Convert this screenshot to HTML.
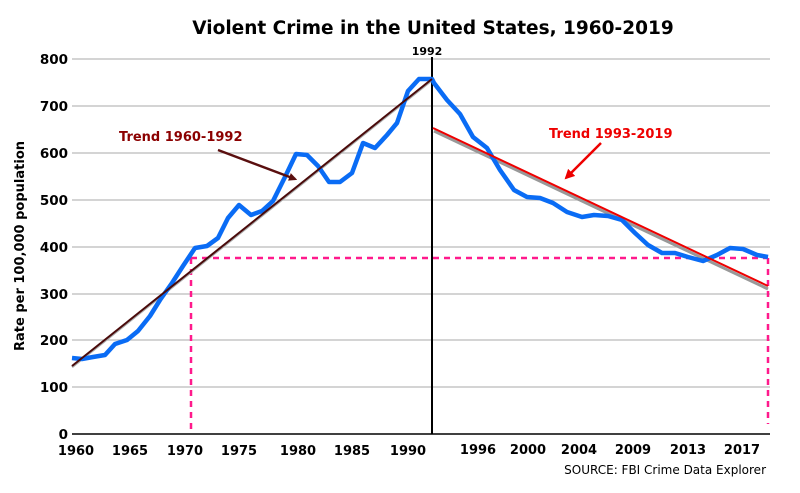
<!DOCTYPE html>
<html><head><style>body{margin:0;background:#fff}svg{display:block}text{font-family:"DejaVu Sans","Liberation Sans",sans-serif;font-weight:bold}</style></head><body>
<svg width="800" height="493" viewBox="0 0 800 493" xmlns="http://www.w3.org/2000/svg">
<defs>
<marker id="ab" markerWidth="8" markerHeight="8" refX="6" refY="4" orient="auto" markerUnits="userSpaceOnUse"><path d="M0,0 L12,4 L0,8 z" fill="#5a0f0f" transform="scale(0.7,1)"/></marker>
<marker id="ar" markerWidth="10" markerHeight="10" refX="8" refY="5" orient="auto" markerUnits="userSpaceOnUse"><path d="M0,0 L10,5 L0,10 z" fill="#e00"/></marker>
</defs>
<text x="433" y="34" text-anchor="middle" font-size="18.5">Violent Crime in the United States, 1960-2019</text>
<g stroke="#bbb" stroke-width="1.2">
<line x1="72" y1="59" x2="770" y2="59"/><line x1="72" y1="106" x2="770" y2="106"/><line x1="72" y1="153" x2="770" y2="153"/><line x1="72" y1="200" x2="770" y2="200"/><line x1="72" y1="247" x2="770" y2="247"/><line x1="72" y1="294" x2="770" y2="294"/><line x1="72" y1="340" x2="770" y2="340"/><line x1="72" y1="387" x2="770" y2="387"/>
</g>
<g font-size="13.5" text-anchor="end">
<text x="68" y="64">800</text><text x="68" y="111">700</text><text x="68" y="158">600</text><text x="68" y="205">500</text><text x="68" y="252">400</text><text x="68" y="299">300</text><text x="68" y="345">200</text><text x="68" y="392">100</text><text x="68" y="439">0</text>
</g>
<text transform="translate(24,246) rotate(-90)" text-anchor="middle" font-size="13">Rate per 100,000 population</text>
<g font-size="13" text-anchor="middle">
<text x="76" y="455">1960</text><text x="130" y="455">1965</text><text x="185" y="455">1970</text><text x="239" y="455">1975</text><text x="298" y="455">1980</text><text x="352" y="455">1985</text><text x="408" y="455">1990</text>
<text x="478" y="454">1996</text><text x="528" y="454">2000</text><text x="579" y="454">2004</text><text x="633" y="454">2009</text><text x="688" y="454">2013</text><text x="742" y="454">2017</text>
<text x="427" y="55" font-size="11">1992</text>
</g>
<text x="766" y="474" text-anchor="end" font-size="12" style="font-weight:normal">SOURCE: FBI Crime Data Explorer</text>
<g stroke="#ff1a8c" stroke-width="2.5" stroke-dasharray="6,5" fill="none">
<line x1="191" y1="258" x2="768" y2="258"/><line x1="191" y1="258" x2="191" y2="430"/><line x1="768" y1="258" x2="768" y2="424"/>
</g>
<line x1="72" y1="434" x2="770" y2="434" stroke="#000" stroke-width="1.5"/>
<line x1="432" y1="57" x2="432" y2="434" stroke="#000" stroke-width="2"/>
<line x1="72" y1="367" x2="432" y2="80" stroke="#aaa" stroke-width="2.5"/>
<line x1="434" y1="131" x2="768" y2="289" stroke="#999" stroke-width="3"/>
<polyline fill="none" stroke="#0a6cf5" stroke-width="4.5" stroke-linejoin="round" points="72,358 82,359 93,357 105,355 115,344 127,340 138,331 150,316 160,300 172,283 183,266 195,248 207,246 218,238 228,218 239,205 251,215 262,211 273,201 285,177 296,154 307,155 318,166 329,182 340,182 352,173 363,143 375,148 387,135 397,123 408,91 419,79 432,79 434,83 447,100 460,114 473,137 487,148 500,170 514,190 527,197 540,198 553,203 567,212 582,217 594,215 608,216 622,220 635,233 648,245 662,253 675,253 688,257 703,261 717,255 730,248 743,249 757,255 768,257"/>
<line x1="72" y1="366" x2="432" y2="79" stroke="#4a0a0a" stroke-width="2"/>
<line x1="433" y1="128" x2="768" y2="286" stroke="#e00" stroke-width="2"/>
<text x="119" y="141" font-size="13" fill="#8b0000">Trend 1960-1992</text>
<line x1="218" y1="150" x2="295" y2="179" stroke="#5a0f0f" stroke-width="2.5" marker-end="url(#ab)"/>
<text x="549" y="138" font-size="13" fill="#e00">Trend 1993-2019</text>
<line x1="601" y1="143" x2="566" y2="178" stroke="#e00" stroke-width="2.5" marker-end="url(#ar)"/>
</svg>
</body></html>
